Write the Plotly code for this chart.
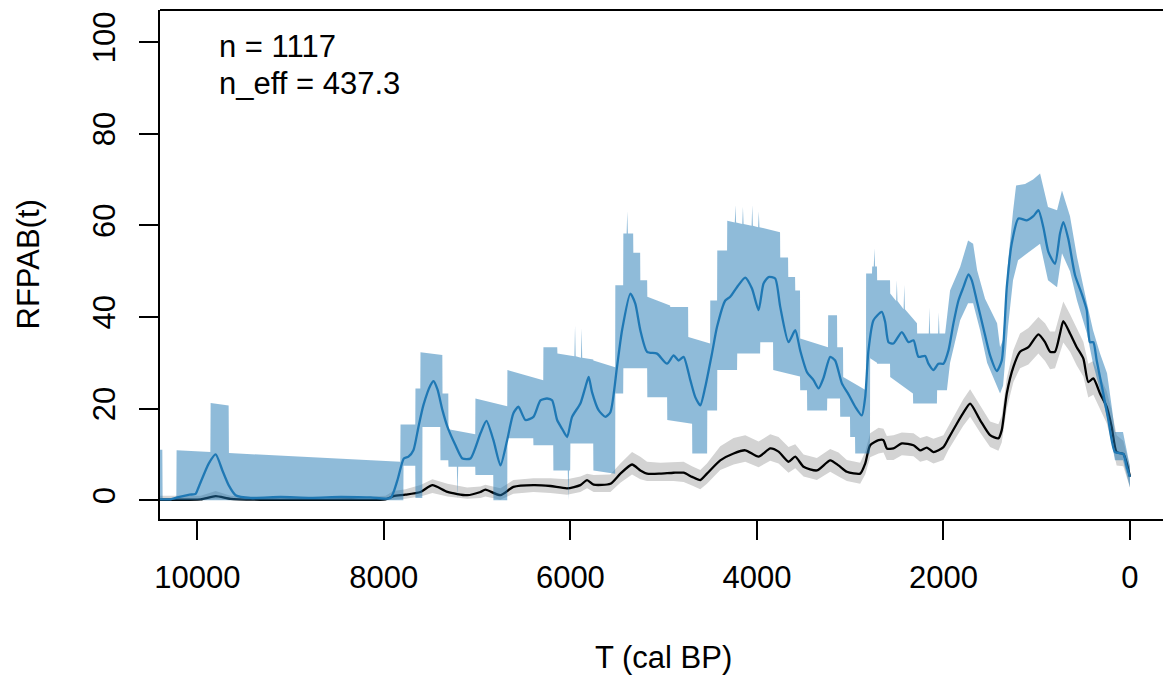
import plotly.graph_objects as go

# ---- mean RFPAB (blue line) ----
mean_T = [10400, 10286, 10214, 10082, 10018, 9985, 9878, 9803, 9731, 9664, 9589, 9428, 9107, 8786, 8464,
          8143, 7929, 7854, 7786, 7736, 7683, 7629, 7575, 7500, 7468, 7425, 7371, 7318, 7232, 7157,
          7071, 6964, 6900, 6825, 6750, 6678, 6611, 6557, 6482, 6396, 6321, 6250, 6196, 6142, 6089,
          6035, 5982, 5893, 5839, 5804, 5768, 5696, 5625, 5571, 5500, 5446, 5357, 5304, 5250, 5178,
          5071, 4964, 4893, 4839, 4786, 4714, 4661, 4607, 4554, 4482, 4428, 4339, 4286, 4214, 4125,
          4053, 3982, 3929, 3875, 3804, 3750, 3661, 3589, 3536, 3464, 3393, 3339, 3286, 3214, 3161,
          3089, 3018, 2946, 2875, 2839, 2804, 2750, 2661, 2625, 2589, 2536, 2446, 2375, 2321, 2268,
          2196, 2161, 2107, 2054, 2000, 1946, 1893, 1839, 1786, 1732, 1696, 1643, 1571, 1500, 1428,
          1375, 1321, 1268, 1196, 1107, 1036, 982, 929, 875, 804, 750, 715, 661, 589, 518,
          464, 429, 393, 357, 286, 232, 161, 72, 35, 0]
mean_v = [0.2, 0.2, 0.6, 1.2, 1.4, 2.9, 8.0, 10.0, 6.5, 3.3, 1.1, 0.5, 0.7, 0.5, 0.7,
          0.6, 0.5, 4.4, 9.1, 9.5, 10.9, 16.0, 20.8, 25.1, 26.0, 24.2, 19.6, 16.0, 12.0, 9.1,
          9.1, 14.6, 17.3, 13.1, 7.6, 13.1, 19.0, 20.4, 17.5, 18.2, 21.8, 22.2, 21.8, 17.5, 15.6,
          13.8, 18.2, 21.1, 24.7, 26.9, 23.6, 19.6, 18.2, 19.2, 29.1, 37.1, 45.1, 42.9, 37.1, 32.4,
          32.0, 29.8, 31.6, 30.5, 31.3, 26.2, 22.5, 20.7, 24.7, 32.0, 37.8, 43.6, 44.4, 46.5, 48.6,
          46.2, 41.5, 47.3, 48.7, 48.4, 42.2, 34.5, 37.1, 32.7, 28.0, 26.2, 24.4, 26.7, 31.3, 30.5,
          25.5, 23.1, 20.4, 18.5, 22.5, 32.7, 39.3, 41.1, 38.9, 34.5, 34.2, 36.7, 34.5, 34.9, 31.3,
          31.5, 29.8, 28.4, 29.8, 29.8, 32.7, 38.6, 43.6, 46.5, 49.3, 48.0, 43.6, 37.5, 31.6, 28.2,
          30.5, 46.5, 56.0, 61.5, 61.1, 62.0, 63.3, 59.6, 54.2, 51.6, 58.2, 60.7, 57.0, 49.1, 45.1,
          41.5, 34.5, 34.5, 30.5, 23.3, 17.5, 10.5, 10.1, 7.3, 5.1]

# ---- blue band upper bound ----
band_hi_T = [10400, 10375, 10372, 10225, 10222, 9860, 9857, 9664, 9661, 7824, 7821, 7663, 7661, 7609, 7607,
             7373, 7371, 7309, 7307, 7020, 7018, 6677, 6675, 6291, 6289, 6141, 6139, 5957, 5950, 5943,
             5887, 5880, 5873, 5755, 5753, 5520, 5518, 5434, 5432, 5397, 5390, 5383, 5327, 5325, 5252,
             5250, 5177, 5175, 4931, 4929, 4738, 4736, 4502, 4500, 4427, 4425, 4320, 4318, 4237, 4230,
             4223, 4157, 4150, 4143, 4057, 4050, 4043, 3987, 3980, 3973, 3752, 3750, 3666, 3664, 3591,
             3589, 3538, 3536, 3238, 3236, 3141, 3139, 3077, 3075, 2831, 2829, 2766, 2764, 2747, 2740,
             2733, 2713, 2711, 2573, 2571, 2507, 2500, 2493, 2427, 2420, 2413, 2284, 2282, 2157, 2150,
             2143, 2057, 2050, 2043, 1982, 1929, 1821, 1736, 1682, 1639, 1554, 1425, 1393, 1361, 1307,
             1254, 1221, 1125, 1039, 964, 879, 782, 729, 643, 568, 461, 396, 321, 246, 193,
             161, 75, 0]
band_hi = [11.0, 11.0, 0.4, 0.4, 10.9, 10.5, 21.2, 20.7, 10.3, 8.4, 16.5, 16.5, 24.4, 24.4, 32.3,
           31.7, 23.3, 23.3, 15.5, 14.4, 22.2, 20.5, 28.4, 26.2, 33.4, 33.4, 32.0, 31.4, 38.0, 31.4,
           31.1, 37.5, 31.1, 30.7, 30.5, 29.0, 46.9, 46.9, 58.2, 58.2, 63.0, 58.2, 58.2, 54.0, 54.0,
           48.0, 48.0, 44.4, 42.5, 42.2, 42.2, 35.6, 34.2, 43.6, 43.6, 54.5, 54.5, 61.0, 60.6, 64.4,
           60.6, 60.3, 64.0, 60.3, 59.9, 64.4, 59.9, 59.6, 63.0, 59.6, 58.5, 53.0, 53.0, 48.7, 48.7,
           45.8, 45.8, 35.3, 33.4, 40.4, 40.4, 33.4, 33.4, 26.9, 24.0, 49.5, 49.5, 51.0, 51.0, 55.0,
           51.0, 51.0, 48.0, 48.0, 45.1, 43.5, 48.0, 43.5, 41.7, 47.0, 41.7, 38.6, 36.4, 36.4, 42.0,
           36.4, 36.4, 41.0, 36.4, 36.4, 45.8, 50.9, 56.7, 56.0, 50.2, 44.0, 38.6, 33.4, 35.0, 52.0,
           63.0, 68.7, 69.0, 70.0, 71.3, 64.0, 63.3, 67.6, 62.0, 53.1, 43.0, 37.1, 32.0, 27.7, 20.0,
           14.9, 14.9, 7.3]

# ---- blue band lower bound ----
band_lo_T = [10400, 7821, 7791, 7789, 7663, 7661, 7588, 7586, 7395, 7393, 7309, 7307, 7217, 7210, 7203,
             7020, 7018, 6827, 6825, 6677, 6675, 6398, 6396, 6184, 6182, 6028, 6021, 6014, 6002, 6000,
             5755, 5753, 5520, 5518, 5434, 5432, 5177, 5175, 4963, 4961, 4695, 4693, 4534, 4532, 4427,
             4425, 4213, 4211, 3966, 3964, 3827, 3825, 3538, 3536, 3463, 3461, 3248, 3246, 3109, 3107,
             3002, 3000, 2948, 2946, 2788, 2786, 2713, 2711, 2573, 2571, 2327, 2325, 2070, 2068, 1963,
             1929, 1821, 1736, 1682, 1607, 1532, 1393, 1361, 1307, 1254, 1200, 964, 879, 782, 729,
             643, 568, 461, 396, 321, 246, 193, 161, 75, 0]
band_lo = [0.0, 0.0, 0.0, 7.5, 7.5, 0.5, 0.5, 16.0, 16.0, 8.7, 8.7, 7.3, 7.3, 0.3, 7.3,
           7.3, 5.5, 5.5, 0.0, 0.0, 13.5, 13.5, 12.0, 12.0, 6.5, 6.5, 0.0, 6.5, 6.5, 12.4,
           12.4, 6.5, 5.8, 23.3, 23.3, 28.8, 28.8, 22.5, 22.5, 17.5, 16.7, 10.2, 10.2, 19.6, 19.6,
           28.4, 28.4, 32.0, 32.0, 34.5, 34.5, 28.4, 27.0, 24.0, 24.0, 19.6, 19.6, 22.2, 22.2, 18.2,
           18.2, 13.8, 13.8, 10.2, 10.2, 31.0, 30.0, 29.8, 29.8, 26.9, 23.3, 21.1, 21.1, 24.0, 24.0,
           30.0, 39.3, 43.0, 43.0, 37.1, 30.0, 23.3, 25.0, 38.0, 48.0, 52.4, 56.0, 48.0, 46.5, 53.9,
           50.0, 43.6, 36.4, 29.8, 24.0, 18.2, 12.0, 8.7, 8.7, 2.8]

# ---- unweighted curve (black line) and its grey band ----
blk_T = [10400, 10286, 9964, 9803, 9643, 9321, 8893, 8357, 7982, 7896, 7768, 7607, 7479, 7318, 7107,
         6964, 6911, 6750, 6611, 6396, 6214, 6035, 5893, 5821, 5750, 5571, 5464, 5339, 5250, 5178,
         5036, 4893, 4786, 4696, 4607, 4536, 4393, 4250, 4125, 3982, 3857, 3768, 3661, 3589, 3500,
         3357, 3214, 3125, 3036, 2893, 2839, 2786, 2696, 2643, 2607, 2536, 2446, 2321, 2250, 2178,
         2107, 2000, 1946, 1857, 1789, 1714, 1607, 1500, 1411, 1375, 1321, 1250, 1179, 1089, 982,
         911, 857, 804, 750, 715, 643, 571, 500, 447, 393, 321, 250, 196, 143, 72, 0]
blk_v = [0.1, 0.1, 0.2, 0.9, 0.3, 0.1, 0.1, 0.1, 0.2, 0.9, 1.2, 1.8, 3.3, 1.8, 1.1,
         1.8, 2.3, 1.1, 2.9, 3.3, 3.1, 2.6, 3.3, 4.4, 3.4, 3.6, 5.8, 7.8, 6.5, 5.8,
         5.8, 6.0, 6.0, 5.1, 4.4, 5.8, 8.7, 10.2, 10.9, 9.5, 11.3, 10.6, 8.4, 9.5, 7.3,
         6.5, 8.7, 7.6, 6.2, 5.8, 8.0, 12.0, 13.1, 13.1, 11.3, 11.3, 12.4, 12.0, 10.9, 11.5,
         10.5, 11.6, 13.5, 16.7, 19.0, 21.1, 17.5, 14.2, 13.5, 15.3, 23.3, 29.1, 32.4, 33.4, 36.2,
         34.5, 32.4, 32.4, 36.4, 39.1, 36.4, 33.4, 30.9, 25.8, 26.6, 23.3, 20.4, 16.0, 10.5, 10.1, 5.1]
grey_hi = [1.0, 1.0, 1.0, 2.0, 1.0, 0.6, 0.6, 0.6, 1.0, 2.0, 2.4, 3.3, 4.6, 3.6, 2.8,
           3.0, 3.4, 2.6, 4.4, 4.8, 4.8, 4.6, 5.2, 5.8, 5.5, 5.6, 8.0, 10.5, 9.5, 8.4,
           8.2, 8.4, 8.4, 7.4, 6.6, 8.0, 11.8, 13.6, 14.2, 12.8, 14.4, 13.8, 11.6, 12.2, 10.0,
           9.2, 11.2, 10.4, 8.8, 8.2, 10.6, 14.6, 15.8, 15.6, 14.0, 14.2, 14.8, 14.6, 13.6, 14.0,
           13.4, 14.2, 16.2, 19.6, 22.0, 24.2, 20.6, 17.2, 16.6, 18.4, 26.6, 32.8, 36.4, 37.6, 40.0,
           38.6, 36.8, 36.8, 40.8, 43.4, 40.6, 37.4, 34.6, 29.8, 30.4, 27.0, 23.8, 19.6, 14.2, 13.0, 7.3]
grey_lo = [0.0, 0.0, 0.0, 0.2, 0.0, 0.0, 0.0, 0.0, 0.0, 0.2, 0.3, 0.8, 1.6, 0.8, 0.3,
           0.5, 0.8, 0.1, 1.4, 1.8, 1.6, 1.2, 1.8, 2.6, 1.8, 1.8, 3.8, 5.6, 4.6, 4.2,
           4.2, 4.2, 4.0, 3.2, 2.4, 3.6, 6.6, 7.8, 8.4, 7.2, 8.6, 8.0, 6.0, 7.0, 5.2,
           4.4, 6.2, 5.2, 4.2, 3.6, 5.6, 9.4, 10.2, 10.4, 8.8, 8.8, 9.8, 9.6, 8.4, 8.8,
           8.0, 8.8, 11.0, 14.0, 16.2, 18.2, 14.8, 11.6, 10.8, 12.6, 20.0, 25.8, 28.8, 29.6, 32.0,
           30.4, 28.6, 28.8, 32.0, 34.4, 32.4, 29.4, 27.0, 22.4, 23.0, 19.8, 16.8, 12.6, 7.6, 7.4, 2.8]

x_ticks = [10000, 8000, 6000, 4000, 2000, 0]
y_ticks = [0, 20, 40, 60, 80, 100]
info_lines = ["n = 1117", "n_eff = 437.3"]

FONT = "Liberation Sans, Arial, Helvetica, sans-serif"
BLUE = "#1F78B4"

fig = go.Figure()
fig.add_trace(go.Scatter(x=blk_T + blk_T[::-1], y=grey_hi + grey_lo[::-1], fill="toself",
                         fillcolor="#D3D3D3", line=dict(width=0), mode="lines", hoverinfo="skip"))
fig.add_trace(go.Scatter(x=blk_T, y=blk_v, mode="lines",
                         line=dict(color="black", width=2.3, shape="spline", smoothing=0.6)))
fig.add_trace(go.Scatter(x=band_hi_T + band_lo_T[::-1], y=band_hi + band_lo[::-1], fill="toself",
                         fillcolor="rgba(31,120,180,0.5)", line=dict(width=0), mode="lines",
                         hoverinfo="skip"))
fig.add_trace(go.Scatter(x=mean_T, y=mean_v, mode="lines",
                         line=dict(color=BLUE, width=2.3, shape="spline", smoothing=0.6)))

axis_common = dict(showgrid=False, zeroline=False, showline=True, linecolor="black", linewidth=2,
                   ticks="outside", ticklen=19, tickwidth=2, tickcolor="black",
                   tickfont=dict(family=FONT, size=31, color="black"))
fig.update_xaxes(range=[10400, -354], tickvals=x_ticks, ticktext=[str(v) for v in x_ticks],
                 ticklabelstandoff=11, **axis_common)
fig.update_yaxes(range=[-4.1, 107.0], tickvals=y_ticks, ticktext=[str(v) for v in y_ticks],
                 tickangle=-90, ticklabelstandoff=12, **axis_common)

fig.add_shape(type="line", xref="paper", yref="paper", x0=0, x1=1, y0=1, y1=1,
              line=dict(color="black", width=2))

fig.add_annotation(text=info_lines[0], xref="paper", yref="paper", x=0.0568, y=0.929,
                   xanchor="left", yanchor="middle", showarrow=False,
                   font=dict(family=FONT, size=31, color="black"))
fig.add_annotation(text=info_lines[1], xref="paper", yref="paper", x=0.0568, y=0.855,
                   xanchor="left", yanchor="middle", showarrow=False,
                   font=dict(family=FONT, size=31, color="black"))
fig.add_annotation(text="T (cal BP)", xref="paper", yref="paper", x=0.502, y=0, yshift=-138,
                   xanchor="center", yanchor="middle", showarrow=False,
                   font=dict(family=FONT, size=31, color="black"))
fig.add_annotation(text="RFPAB(t)", xref="paper", yref="paper", x=0, xshift=-132, y=0.5,
                   xanchor="center", yanchor="middle", textangle=-90, showarrow=False,
                   font=dict(family=FONT, size=31, color="black"))

fig.update_layout(width=1163, height=675, showlegend=False,
                  margin=dict(l=160, r=0, t=10, b=156),
                  plot_bgcolor="white", paper_bgcolor="white")

fig.write_html("out.html")
